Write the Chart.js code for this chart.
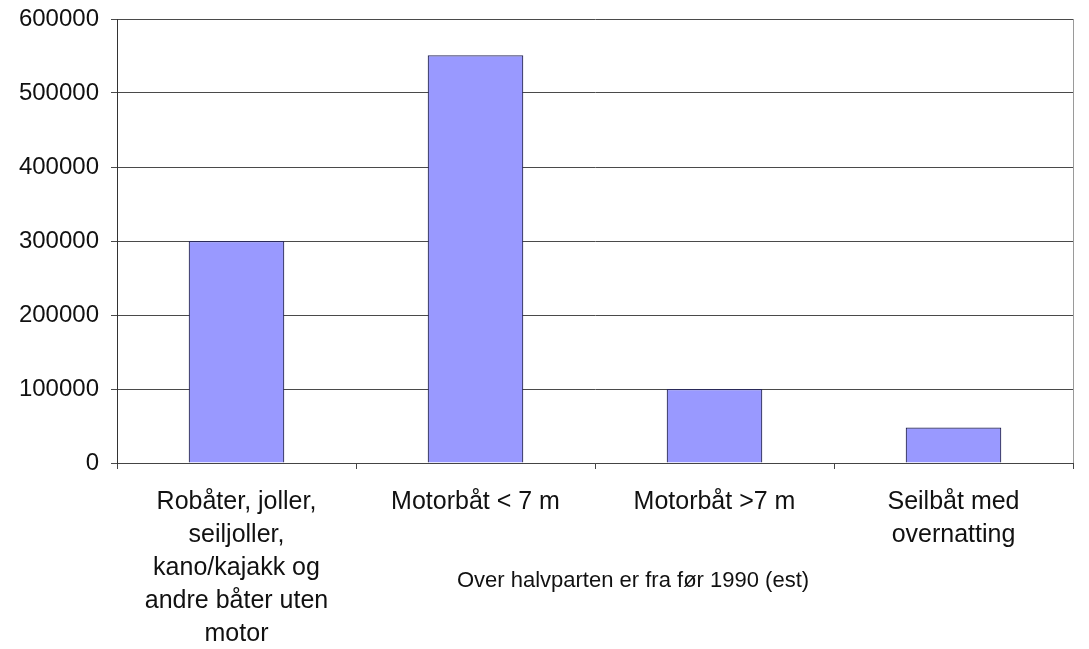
<!DOCTYPE html>
<html>
<head>
<meta charset="utf-8">
<script src="https://cdn.jsdelivr.net/npm/chart.js@4/dist/chart.umd.min.js"></script>
<style>
  html, body { margin: 0; padding: 0; background: #ffffff; }
  #wrap { position: relative; width: 1089px; height: 649px; }
</style>
</head>
<body>
<div id="wrap"><canvas id="c" width="1089" height="649"></canvas></div>
<script>
const categories = [
  ["Robåter, joller,", "seiljoller,", "kano/kajakk og", "andre båter uten", "motor"],
  ["Motorbåt < 7 m"],
  ["Motorbåt >7 m"],
  ["Seilbåt med", "overnatting"]
];
const boatCounts = [300000, 551000, 100000, 48000];
const yTicks = [0, 100000, 200000, 300000, 400000, 500000, 600000];
const annotationText = "Over halvparten er fra før 1990 (est)";

const FONT = "'Liberation Sans', Arial, Helvetica, sans-serif";

const extras = {
  id: 'extras',
  afterDraw(chart) {
    const ctx = chart.ctx;
    const a = chart.chartArea;
    ctx.save();
    ctx.strokeStyle = '#9a9a9a';
    ctx.lineWidth = 1;
    ctx.beginPath();
    ctx.moveTo(Math.round(a.right) + 0.5, a.top);
    ctx.lineTo(Math.round(a.right) + 0.5, a.bottom);
    ctx.stroke();
    ctx.fillStyle = '#111111';
    ctx.font = '22px ' + FONT;
    ctx.textAlign = 'center';
    ctx.textBaseline = 'middle';
    ctx.fillText(annotationText, 633, 581);
    ctx.restore();
  }
};

new Chart(document.getElementById('c'), {
  type: 'bar',
  data: {
    labels: categories,
    datasets: [{
      data: boatCounts,
      backgroundColor: '#9999ff',
      borderColor: '#2a2a5a',
      borderWidth: 1.2,
      barPercentage: 0.4,
      categoryPercentage: 1.0
    }]
  },
  options: {
    responsive: false,
    animation: false,
    devicePixelRatio: 1,
    layout: { padding: { left: 0, right: 16, top: 19, bottom: 0 } },
    plugins: { legend: { display: false }, tooltip: { enabled: false } },
    scales: {
      x: {
        grid: { display: true, drawOnChartArea: false, drawTicks: true, tickLength: 6, color: '#444444', offset: true },
        border: { display: true, color: '#444444', width: 1 },
        ticks: {
          color: '#111111',
          font: { family: FONT, size: 25, lineHeight: 1.32 },
          padding: 17,
          maxRotation: 0,
          autoSkip: false
        },
        afterFit(scale) { scale.height = 186; }
      },
      y: {
        min: 0,
        max: 600000,
        afterBuildTicks(scale) { scale.ticks = yTicks.map(v => ({ value: v })); },
        grid: { color: '#4a4a4a', lineWidth: 1, drawTicks: true, tickLength: 6 },
        border: { display: true, color: '#333333', width: 1 },
        ticks: {
          color: '#111111',
          font: { family: FONT, size: 24, lineHeight: 0.6 },
          padding: 12,
          callback: v => String(v)
        },
        afterFit(scale) { scale.width = 117; scale.paddingTop = 0; scale.paddingBottom = 0; }
      }
    }
  },
  plugins: [extras]
});
</script>
</body>
</html>
